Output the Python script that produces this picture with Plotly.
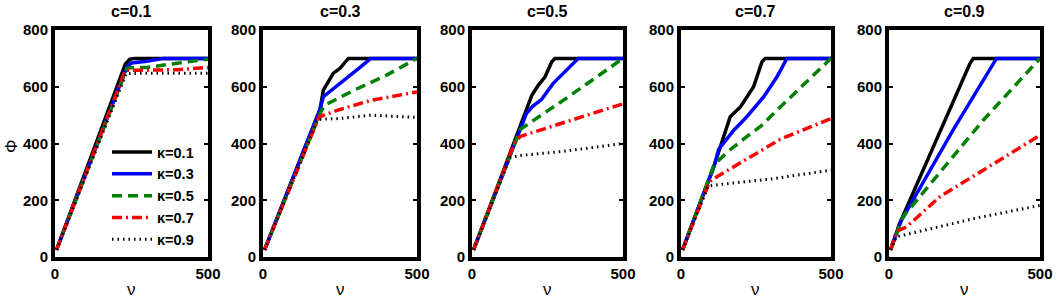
import plotly.graph_objects as go

# ---- data ----
c_values = [0.1, 0.3, 0.5, 0.7, 0.9]
kappa_labels = ["κ=0.1", "κ=0.3", "κ=0.5", "κ=0.7", "κ=0.9"]

# c = 0.1
c1_k1_nu = [5, 230, 245, 260, 500];            c1_k1_phi = [25, 680, 697, 700, 700]
c1_k3_nu = [5, 235, 250, 300, 355, 500];       c1_k3_phi = [25, 670, 684, 690, 700, 700]
c1_k5_nu = [5, 235, 260, 300, 400, 500];       c1_k5_phi = [25, 665, 668, 668, 683, 697]
c1_k7_nu = [5, 230, 260, 400, 500];            c1_k7_phi = [25, 658, 658, 660, 668]
c1_k9_nu = [5, 233, 500];                      c1_k9_phi = [25, 647, 648]

# c = 0.3
c3_k1_nu = [5, 185, 196, 228, 250, 277, 500];  c3_k1_phi = [25, 520, 588, 647, 665, 700, 700]
c3_k3_nu = [5, 185, 196, 228, 304, 350, 500];  c3_k3_phi = [25, 520, 565, 594, 659, 700, 700]
c3_k5_nu = [5, 185, 200, 300, 400, 500];       c3_k5_phi = [25, 505, 535, 590, 640, 700]
c3_k7_nu = [5, 182, 250, 350, 500];            c3_k7_phi = [25, 494, 520, 552, 582]
c3_k9_nu = [5, 178, 250, 350, 500];            c3_k9_phi = [25, 485, 488, 500, 492]

# c = 0.5
c5_k1_nu = [5, 176, 198, 220, 242, 264, 275, 500]; c5_k1_phi = [25, 505, 570, 606, 635, 688, 700, 700]
c5_k3_nu = [5, 180, 200, 230, 269, 324, 352, 500]; c5_k3_phi = [25, 505, 530, 555, 612, 671, 700, 700]
c5_k5_nu = [5, 145, 160, 324, 500];                c5_k5_phi = [25, 410, 450, 568, 700]
c5_k7_nu = [5, 140, 160, 500];                     c5_k7_phi = [25, 400, 425, 540]
c5_k9_nu = [5, 125, 160, 300, 500];                c5_k9_phi = [25, 350, 358, 372, 400]

# c = 0.7
c7_k1_nu = [5, 110, 142, 164, 198, 242, 270, 281, 500]; c7_k1_phi = [25, 320, 424, 494, 529, 600, 688, 700, 700]
c7_k3_nu = [5, 110, 126, 176, 214, 276, 320, 353, 500]; c7_k3_phi = [25, 320, 380, 447, 488, 565, 635, 700, 700]
c7_k5_nu = [5, 110, 125, 164, 220, 264, 309, 409, 500]; c7_k5_phi = [25, 325, 340, 378, 425, 459, 506, 606, 700]
c7_k7_nu = [5, 95, 120, 220, 331, 500];                 c7_k7_phi = [25, 265, 283, 345, 415, 488]
c7_k9_nu = [5, 90, 150, 300, 500];                      c7_k9_phi = [25, 250, 258, 275, 306]

# c = 0.9
c9_k1_nu = [5, 35, 268, 279, 500];             c9_k1_phi = [25, 118, 682, 700, 700]
c9_k3_nu = [5, 41, 212, 356, 500];             c9_k3_phi = [25, 129, 447, 700, 700]
c9_k5_nu = [5, 46, 312, 500];                  c9_k5_phi = [25, 141, 482, 700]
c9_k7_nu = [5, 25, 58, 168, 500];              c9_k7_phi = [25, 90, 106, 212, 429]
c9_k9_nu = [5, 24, 279, 500];                  c9_k9_phi = [25, 71, 135, 182]

panels = [
    [(c1_k1_nu, c1_k1_phi), (c1_k3_nu, c1_k3_phi), (c1_k5_nu, c1_k5_phi), (c1_k7_nu, c1_k7_phi), (c1_k9_nu, c1_k9_phi)],
    [(c3_k1_nu, c3_k1_phi), (c3_k3_nu, c3_k3_phi), (c3_k5_nu, c3_k5_phi), (c3_k7_nu, c3_k7_phi), (c3_k9_nu, c3_k9_phi)],
    [(c5_k1_nu, c5_k1_phi), (c5_k3_nu, c5_k3_phi), (c5_k5_nu, c5_k5_phi), (c5_k7_nu, c5_k7_phi), (c5_k9_nu, c5_k9_phi)],
    [(c7_k1_nu, c7_k1_phi), (c7_k3_nu, c7_k3_phi), (c7_k5_nu, c7_k5_phi), (c7_k7_nu, c7_k7_phi), (c7_k9_nu, c7_k9_phi)],
    [(c9_k1_nu, c9_k1_phi), (c9_k3_nu, c9_k3_phi), (c9_k5_nu, c9_k5_phi), (c9_k7_nu, c9_k7_phi), (c9_k9_nu, c9_k9_phi)],
]

x_ticks = [0, 500]
y_ticks = [0, 200, 400, 600, 800]

# ---- styling ----
W, H = 1059, 302
styles = [
    dict(color="#000000", width=3.5, dash="solid"),
    dict(color="#0000FF", width=3.5, dash="solid"),
    dict(color="#008000", width=3.5, dash="10px,6px"),
    dict(color="#FF0000", width=3.5, dash="10px,4px,2px,4px"),
    dict(color="#000000", width=3, dash="1.5px,4px"),
]
x_px = [(55, 208), (263, 417), (472, 623), (681, 831), (889, 1040)]
y_dom = [1 - 257 / H, 1 - 30 / H]
FONT = "Liberation Sans, Arial, sans-serif"

fig = go.Figure()
annotations = []
for i, (c, curves) in enumerate(zip(c_values, panels)):
    xa = "x" if i == 0 else f"x{i+1}"
    ya = "y" if i == 0 else f"y{i+1}"
    for j, (nu, phi) in enumerate(curves):
        fig.add_trace(go.Scatter(
            x=nu, y=phi, mode="lines", xaxis=xa, yaxis=ya,
            line=styles[j], name=kappa_labels[j], showlegend=(i == 0),
        ))
    axis_common = dict(
        showline=True, linecolor="black", linewidth=4, mirror="ticks",
        ticks="inside", ticklen=4, tickwidth=2, tickcolor="black",
        showgrid=False, zeroline=False, automargin=False,
        tickfont=dict(family=FONT, size=15, color="black", weight="bold"),
    )
    dom = [x_px[i][0] / W, x_px[i][1] / W]
    fig.layout[f"xaxis{'' if i == 0 else i+1}"] = dict(
        domain=dom, range=[0, 500], tickvals=x_ticks, anchor=ya, **axis_common)
    fig.layout[f"yaxis{'' if i == 0 else i+1}"] = dict(
        domain=y_dom, range=[0, 800], tickvals=y_ticks, anchor=xa, **axis_common)
    cx = (dom[0] + dom[1]) / 2
    annotations.append(dict(x=cx, y=1 - 12 / H, xref="paper", yref="paper",
                            xanchor="center", yanchor="middle",
                            text="<b>c=%s</b>" % c, showarrow=False,
                            font=dict(family=FONT, size=16, color="black")))
    annotations.append(dict(x=cx, y=1 - 289 / H, xref="paper", yref="paper",
                            xanchor="center", yanchor="middle",
                            text="ν", showarrow=False,
                            font=dict(family=FONT, size=17, color="black")))

annotations.append(dict(x=11 / W, y=1 - 146 / H, xref="paper", yref="paper",
                        xanchor="center", yanchor="middle",
                        text="Φ", textangle=-90, showarrow=False,
                        font=dict(family=FONT, size=17, color="black")))

fig.update_layout(
    width=W, height=H,
    margin=dict(l=0, r=0, t=0, b=0, pad=0, autoexpand=False),
    paper_bgcolor="white", plot_bgcolor="white",
    annotations=annotations,
    showlegend=True,
    legend=dict(x=107 / W, y=1 - 136 / H, xanchor="left", yanchor="top",
                bgcolor="rgba(0,0,0,0)", borderwidth=0,
                font=dict(family=FONT, size=14.5, color="black", weight="bold"),
                itemwidth=40, tracegroupgap=0),
)

fig.write_html("out.html", config={"displayModeBar": False},
               post_script="document.body.style.margin='0';document.body.style.padding='0';")
